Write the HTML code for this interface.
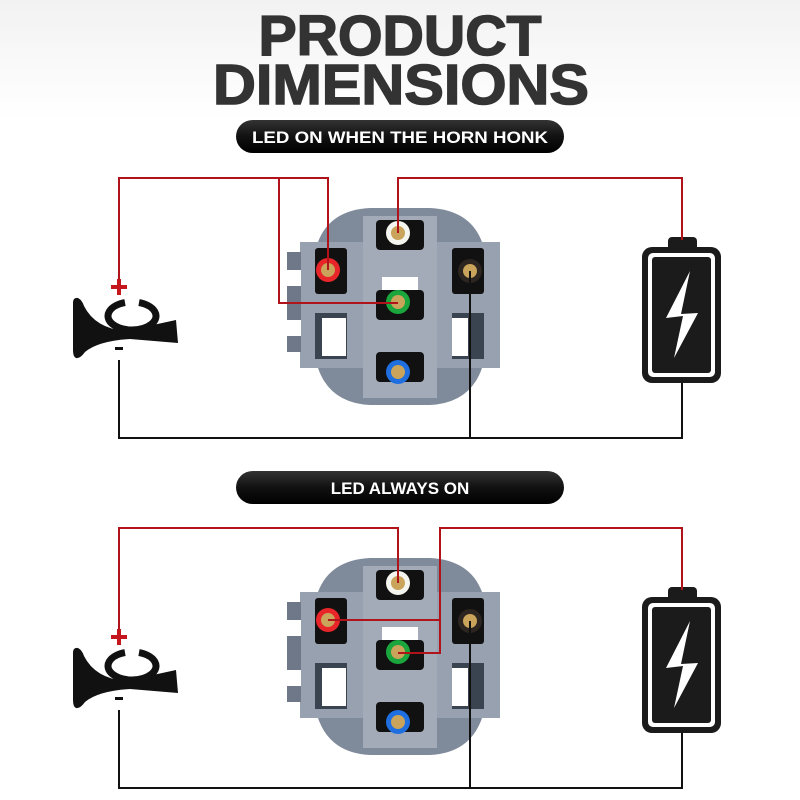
<!DOCTYPE html>
<html><head><meta charset="utf-8"><style>
html,body{margin:0;padding:0;background:#fff;width:800px;height:800px;overflow:hidden}
svg{display:block}
</style></head><body>
<svg width="800" height="800" viewBox="0 0 800 800" xmlns="http://www.w3.org/2000/svg" font-family="Liberation Sans, Arial, sans-serif">
<defs>
<linearGradient id="bg" x1="0" y1="0" x2="0" y2="1"><stop offset="0" stop-color="#f2f2f2"/><stop offset="0.15" stop-color="#fff"/></linearGradient>
<linearGradient id="pill" x1="0" y1="0" x2="0" y2="1"><stop offset="0" stop-color="#333"/><stop offset="0.5" stop-color="#111"/><stop offset="1" stop-color="#000"/></linearGradient>
<g id="sw">
 <path d="M300,242 L318,242 Q330,210 370,208 L430,208 Q470,210 482,242 L500,242 L500,368 L482,368 Q470,403 430,405 L370,405 Q330,403 318,368 L300,368 Z" fill="#7f8a9a"/>
 <rect x="300" y="242" width="200" height="126" fill="#97a1af"/>
 <rect x="363" y="216" width="74" height="182" fill="#a3abb8"/>
 <rect x="287" y="252" width="14" height="100" fill="#6f7888"/>
 <rect x="287" y="270" width="14" height="16" fill="#fff"/>
 <rect x="287" y="320" width="14" height="16" fill="#fff"/>
 <rect x="315" y="248" width="32" height="46" fill="#111" rx="3"/>
 <rect x="452" y="248" width="32" height="46" fill="#111" rx="3"/>
 <rect x="376" y="220" width="48" height="30" fill="#111" rx="4"/>
 <rect x="376" y="290" width="48" height="30" fill="#111" rx="4"/>
 <rect x="376" y="352" width="48" height="30" fill="#111" rx="4"/>
 <rect x="382" y="277" width="36" height="13" fill="#fff"/>
 <rect x="315" y="313" width="32" height="46" fill="#3a4350"/>
 <rect x="322" y="318" width="24" height="38" fill="#fff"/>
 <rect x="452" y="313" width="32" height="46" fill="#3a4350"/>
 <rect x="452" y="318" width="16" height="38" fill="#fff"/>
 <circle cx="398" cy="233" r="12" fill="#f5f5f0"/><circle cx="398" cy="233" r="7" fill="#c9a45a"/>
 <circle cx="328" cy="270" r="12" fill="#e8262a"/><circle cx="328" cy="270" r="7" fill="#c9a45a"/>
 <circle cx="470" cy="271" r="12" fill="#2c2520"/><circle cx="470" cy="271" r="7" fill="#c9a45a"/>
 <circle cx="398" cy="302" r="12" fill="#1aa63c"/><circle cx="398" cy="302" r="7" fill="#c9a45a"/>
 <circle cx="398" cy="372" r="12" fill="#1f6fe0"/><circle cx="398" cy="372" r="7" fill="#c9a45a"/>
</g>
<g id="bat">
 <rect x="668" y="237" width="29" height="14" rx="4" fill="#1b1b1b"/>
 <rect x="642" y="247" width="79" height="136" rx="10" fill="#1b1b1b"/>
 <rect x="648" y="253" width="67" height="124" rx="5" fill="#fff"/>
 <rect x="652" y="257" width="59" height="116" rx="3" fill="#1b1b1b"/>
 <polygon points="690,271 666,318 683,316 674,358 698,313 681,314" fill="#fff"/>
</g>
<g id="horn">
 <path d="M73,303 Q73,297 78,298 Q82,300 84,306 Q95,328 125,331 L176,320 L178,343 L130,339 Q98,341 85,352 Q80,359 76,358 Q73,357 73,350 Z" fill="#111"/>
 <path d="M125,302.6 A24,14 0 1 0 139,302.6" fill="none" stroke="#111" stroke-width="7"/>
</g>
</defs>
<rect width="800" height="800" fill="url(#bg)"/>
<text x="400" y="55" text-anchor="middle" font-size="57" font-weight="bold" fill="#333" stroke="#333" stroke-width="1.5" textLength="283" lengthAdjust="spacingAndGlyphs">PRODUCT</text>
<text x="401" y="104" text-anchor="middle" font-size="57" font-weight="bold" fill="#333" stroke="#333" stroke-width="1.5" textLength="376" lengthAdjust="spacingAndGlyphs">DIMENSIONS</text>
<rect x="236" y="120" width="328" height="33" rx="16.5" fill="url(#pill)"/>
<text x="400" y="143" text-anchor="middle" font-size="17" font-weight="bold" fill="#fff" textLength="296" lengthAdjust="spacingAndGlyphs">LED ON WHEN THE HORN HONK</text>
<rect x="236" y="471" width="328" height="33" rx="16.5" fill="url(#pill)"/>
<text x="400" y="494" text-anchor="middle" font-size="17" font-weight="bold" fill="#fff">LED ALWAYS ON</text>

<use href="#sw"/>
<use href="#bat"/>
<use href="#horn"/>
<g fill="none" stroke-width="2">
 <polyline points="119,280 119,178 328,178 328,270" stroke="#b0141a"/>
 <polyline points="279,178 279,303 398,303" stroke="#b0141a"/>
 <polyline points="398,233 398,178 682,178 682,240" stroke="#b0141a"/>
 <polyline points="119,360 119,438 682,438 682,383" stroke="#111"/>
 <polyline points="470,271 470,438" stroke="#111"/>
</g>
<rect x="111" y="285" width="16" height="4" fill="#c4161c"/><rect x="117" y="279" width="4" height="16" fill="#c4161c"/>
<rect x="115" y="347" width="8" height="3" fill="#111"/>

<g transform="translate(0,350)">
<use href="#sw"/>
<use href="#bat"/>
<use href="#horn"/>
<g fill="none" stroke-width="2">
 <polyline points="119,280 119,178 398,178 398,233" stroke="#b0141a"/>
 <polyline points="682,240 682,178 440,178 440,303 398,303" stroke="#b0141a"/>
 <polyline points="328,270 440,270" stroke="#b0141a"/>
 <polyline points="119,360 119,438 682,438 682,383" stroke="#111"/>
 <polyline points="470,271 470,438" stroke="#111"/>
</g>
<rect x="111" y="285" width="16" height="4" fill="#c4161c"/><rect x="117" y="279" width="4" height="16" fill="#c4161c"/>
<rect x="115" y="347" width="8" height="3" fill="#111"/>
</g>
</svg>
</body></html>
